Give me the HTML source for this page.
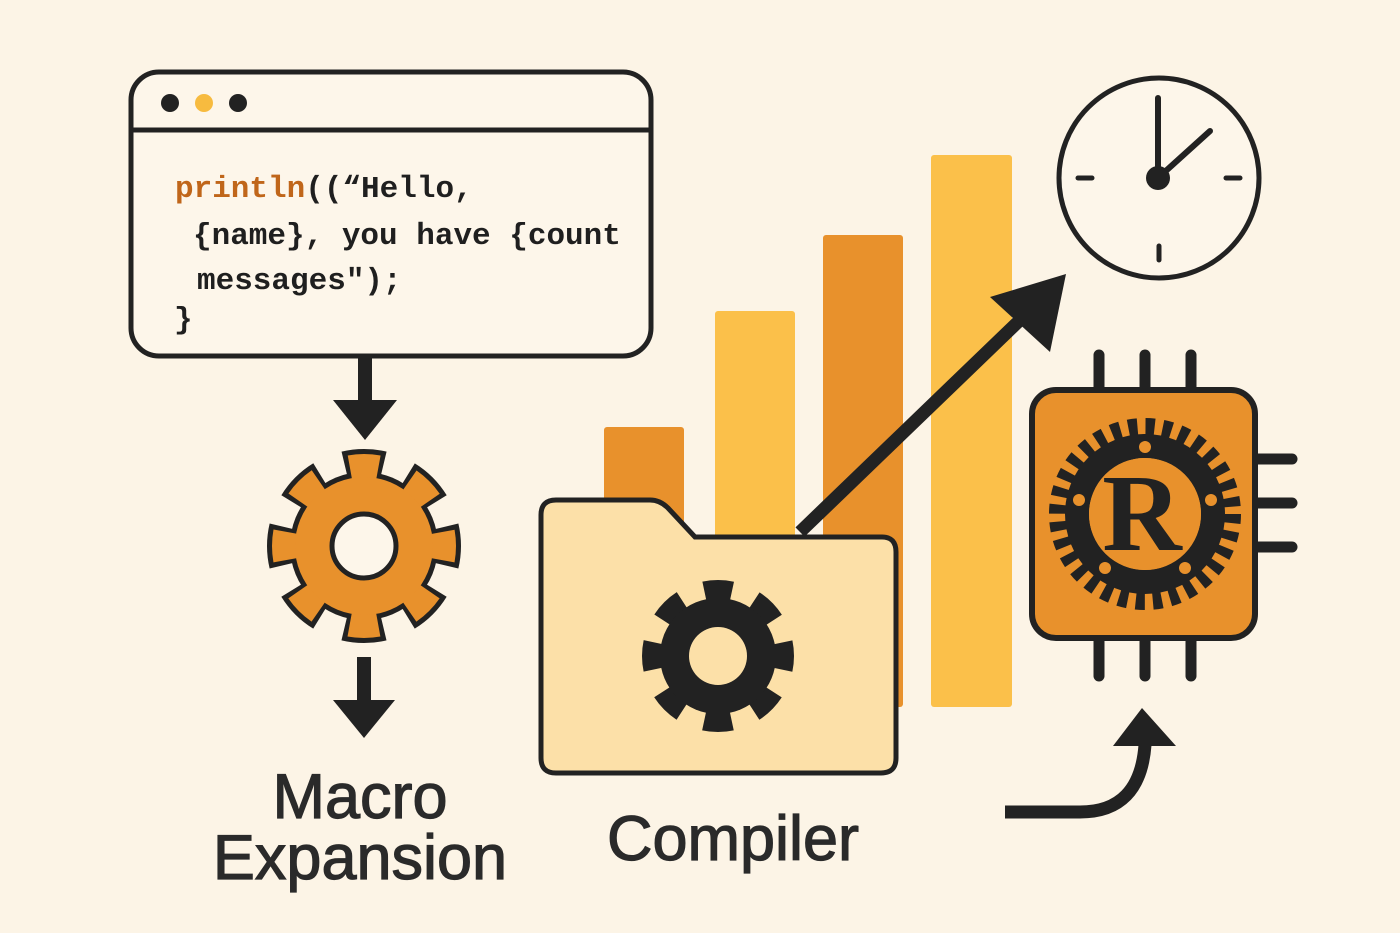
<!DOCTYPE html>
<html><head><meta charset="utf-8"><style>
html,body{margin:0;padding:0;background:#fcf4e6;}
svg{display:block}
.code{font-family:"Liberation Mono",monospace;font-weight:bold;font-size:31px;fill:#1f1f1f}
.lbl{font-family:"Liberation Sans",sans-serif;font-size:63px;fill:#2a2a2a;text-anchor:middle;stroke:#2a2a2a;stroke-width:1.2}
</style></head><body>
<svg width="1400" height="933" viewBox="0 0 1400 933" xmlns="http://www.w3.org/2000/svg">
<rect width="1400" height="933" fill="#fcf4e6"/>

<!-- code window -->
<rect x="131" y="72" width="520" height="284" rx="28" fill="#fdf6ea" stroke="#222" stroke-width="5"/>
<line x1="131" y1="130" x2="651" y2="130" stroke="#222" stroke-width="5"/>
<circle cx="170" cy="103" r="9" fill="#222"/>
<circle cx="204" cy="103" r="9" fill="#f7bb3f"/>
<circle cx="238" cy="103" r="9" fill="#222"/>
<text class="code" x="175" y="197"><tspan fill="#c0661a">println</tspan>((“Hello,</text>
<text class="code" x="193" y="244">{name}, you have {count</text>
<text class="code" x="197" y="289">messages");</text>
<text class="code" x="174" y="328">}</text>

<!-- arrows down -->
<rect x="358" y="356" width="14" height="46" fill="#222"/>
<polygon points="333,400 397,400 365,440" fill="#222"/>
<rect x="357" y="657" width="14" height="45" fill="#222"/>
<polygon points="333,700 395,700 364,738" fill="#222"/>

<!-- gear 1 -->
<g transform="translate(364,546)">
<circle r="81" fill="none" stroke="#222" stroke-width="32" stroke-dasharray="38 25.6" stroke-dashoffset="19"/>
<circle r="74" fill="#222"/>
<circle r="78" fill="none" stroke="#e8912c" stroke-width="28" stroke-dasharray="28 33.26" stroke-dashoffset="14"/>
<circle r="69" fill="#e8912c"/>
<circle r="32" fill="#fdf6ea" stroke="#222" stroke-width="5"/>
</g>
<text class="lbl" x="360" y="818">Macro</text>
<text class="lbl" x="360" y="879">Expansion</text>

<!-- bars -->
<rect x="604" y="427" width="80" height="280" rx="3" fill="#e8912c"/>
<rect x="715" y="311" width="80" height="396" rx="3" fill="#fbc04a"/>
<rect x="823" y="235" width="80" height="472" rx="3" fill="#e8912c"/>
<rect x="931" y="155" width="81" height="552" rx="3" fill="#fbc04a"/>

<!-- folder -->
<path d="M556,500 L650,500 Q660,500 668,508 L695,537 L882,537 Q896,537 896,552 L896,758 Q896,773 881,773 L556,773 Q541,773 541,758 L541,515 Q541,500 556,500 Z" fill="#fce0a8" stroke="#222" stroke-width="5"/>
<g transform="translate(718,656)">
<circle r="62" fill="none" stroke="#222" stroke-width="28" stroke-dasharray="26 22.7" stroke-dashoffset="13"/>
<circle r="58" fill="#222"/>
<circle r="29" fill="#fce0a8"/>
</g>

<!-- diagonal arrow -->
<line x1="800" y1="532" x2="1020" y2="320" stroke="#222" stroke-width="13"/>
<polygon points="1066,274 1050,352 990,297" fill="#222"/>

<!-- clock -->
<circle cx="1159" cy="178" r="100" fill="#fdf6ea" stroke="#222" stroke-width="5"/>
<line x1="1158" y1="178" x2="1158" y2="98" stroke="#222" stroke-width="6" stroke-linecap="round"/>
<line x1="1158" y1="178" x2="1210" y2="131" stroke="#222" stroke-width="6" stroke-linecap="round"/>
<circle cx="1158" cy="178" r="12" fill="#222"/>
<line x1="1078" y1="178" x2="1092" y2="178" stroke="#222" stroke-width="5" stroke-linecap="round"/>
<line x1="1226" y1="178" x2="1240" y2="178" stroke="#222" stroke-width="5" stroke-linecap="round"/>
<line x1="1159" y1="246" x2="1159" y2="260" stroke="#222" stroke-width="5" stroke-linecap="round"/>

<!-- chip -->
<g stroke="#222" stroke-width="11" stroke-linecap="round">
<line x1="1099" y1="355" x2="1099" y2="392"/><line x1="1145" y1="355" x2="1145" y2="392"/><line x1="1191" y1="355" x2="1191" y2="392"/>
<line x1="1099" y1="636" x2="1099" y2="676"/><line x1="1145" y1="636" x2="1145" y2="676"/><line x1="1191" y1="636" x2="1191" y2="676"/>
<line x1="1253" y1="459" x2="1292" y2="459"/><line x1="1253" y1="503" x2="1292" y2="503"/><line x1="1253" y1="547" x2="1292" y2="547"/>
</g>
<rect x="1032" y="390" width="223" height="248" rx="24" fill="#e8912c" stroke="#222" stroke-width="6"/>
<g transform="translate(1145,514)">
<circle r="86" fill="none" stroke="#222" stroke-width="20" stroke-dasharray="9 7.9"/>
<circle r="68" fill="none" stroke="#222" stroke-width="24"/>
<circle r="56" fill="#e8912c"/>
<circle cx="0" cy="-67" r="6" fill="#e8912c"/>
<circle cx="-66" cy="-14" r="6" fill="#e8912c"/>
<circle cx="66" cy="-14" r="6" fill="#e8912c"/>
<circle cx="-40" cy="54" r="6" fill="#e8912c"/>
<circle cx="40" cy="54" r="6" fill="#e8912c"/>
<text x="-3" y="36" text-anchor="middle" font-family="Liberation Serif,serif" font-weight="bold" font-size="110" fill="#222">R</text>
</g>

<!-- curved arrow -->
<path d="M1005,812 L1080,812 Q1140,812 1145,745" fill="none" stroke="#222" stroke-width="13"/>
<polygon points="1142,708 1113,746 1176,746" fill="#222"/>

<text class="lbl" x="733" y="860">Compiler</text>
</svg>
</body></html>
